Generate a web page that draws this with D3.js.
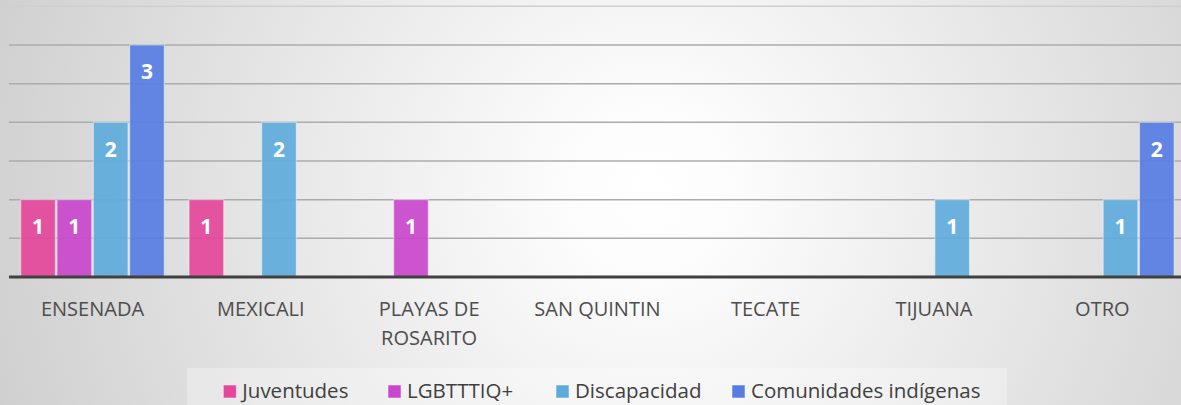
<!DOCTYPE html>
<html>
<head>
<meta charset="utf-8">
<script src="https://cdn.jsdelivr.net/npm/d3@7"></script>
<style>
  html, body { margin: 0; padding: 0; background: #ffffff; }
  svg { display: block; }
  text { font-family: "Open Sans", sans-serif; }
</style>
</head>
<body>
<svg id="chart" width="1181" height="405"></svg>
<script>
// ---- data ----
const categories = ["ENSENADA", "MEXICALI", "PLAYAS DE ROSARITO", "SAN QUINTIN", "TECATE", "TIJUANA", "OTRO"];
const tickLabels = [["ENSENADA"], ["MEXICALI"], ["PLAYAS DE", "ROSARITO"], ["SAN QUINTIN"], ["TECATE"], ["TIJUANA"], ["OTRO"]];
const seriesNames = ["Juventudes", "LGBTTTIQ+", "Discapacidad", "Comunidades indígenas"];
const juventudes   = [1, 1, 0, 0, 0, 0, 0];
const lgbtttiq     = [1, 0, 1, 0, 0, 0, 0];
const discapacidad = [2, 2, 0, 0, 0, 1, 1];
const comunidades  = [3, 0, 0, 0, 0, 0, 2];
const gridValues   = [0.5, 1, 1.5, 2, 2.5, 3, 3.5];

const seriesValues = [juventudes, lgbtttiq, discapacidad, comunidades];
const colors = ["#E4479A", "#C947CC", "#5EABDB", "#577DE3"];

// ---- layout ----
const W = 1181, H = 405;
const svg = d3.select("#chart");

const defs = svg.append("defs");
const grad = defs.append("radialGradient")
  .attr("id", "bg").attr("gradientUnits", "userSpaceOnUse")
  .attr("cx", 650).attr("cy", 190).attr("r", 720);
grad.append("stop").attr("offset", "0").attr("stop-color", "#ffffff");
grad.append("stop").attr("offset", "0.12").attr("stop-color", "#fcfcfc");
grad.append("stop").attr("offset", "1").attr("stop-color", "#cdcdcd");
svg.append("rect").attr("width", W).attr("height", H).attr("fill", "url(#bg)");

const x0 = d3.scaleBand().domain(categories).range([8.35, 1186.5])
  .paddingInner(0.147).paddingOuter(0.0735);
const x1 = d3.scaleBand().domain(seriesNames).range([0, x0.bandwidth()]).paddingInner(0.045);
const y = d3.scaleLinear().domain([0, 3.5]).range([277, 6.3]);

// gridlines
svg.append("g").selectAll("line").data(gridValues).join("line")
  .attr("x1", 9).attr("x2", W)
  .attr("y1", d => y(d)).attr("y2", d => y(d))
  .attr("stroke", (d, i) => i === gridValues.length - 1 ? "#cfcfcf" : "#ababab")
  .attr("stroke-width", 1.5);

// bars
const rows = [];
categories.forEach((c, ci) => {
  seriesNames.forEach((s, si) => {
    const v = seriesValues[si][ci];
    if (v > 0) rows.push({ c, s, si, v });
  });
});

const bars = svg.append("g");
bars.selectAll("rect").data(rows).join("rect")
  .attr("x", d => x0(d.c) + x1(d.s))
  .attr("y", d => y(d.v))
  .attr("width", x1.bandwidth())
  .attr("height", d => y(0) - y(d.v))
  .attr("fill", d => colors[d.si])
  .attr("fill-opacity", 0.92)
  .attr("stroke", "rgba(255,255,255,0.45)")
  .attr("stroke-width", 1.2);

bars.selectAll("text").data(rows).join("text")
  .attr("x", d => x0(d.c) + x1(d.s) + x1.bandwidth() / 2)
  .attr("y", d => y(d.v) + 34.5)
  .attr("text-anchor", "middle")
  .attr("fill", "#ffffff")
  .attr("font-weight", "bold")
  .attr("font-size", 21)
  .text(d => d.v);

// axis line
svg.append("line").attr("x1", 9).attr("x2", W).attr("y1", y(0)).attr("y2", y(0))
  .attr("stroke", "#404040").attr("stroke-width", 3);

// category labels
const xAxis = d3.axisBottom(x0).tickSize(0).tickFormat("");
const ax = svg.append("g").attr("transform", `translate(0,${y(0)})`).call(xAxis);
ax.select(".domain").remove();
ax.selectAll(".tick").each(function (d, i) {
  const t = d3.select(this).append("text")
    .attr("text-anchor", "middle")
    .attr("fill", "#4d4d4d")
    .attr("font-size", 20);
  tickLabels[i].forEach((line, li) => {
    t.append("tspan").attr("x", 0).attr("y", 39 + li * 28.5).text(line);
  });
});

// legend
svg.append("rect").attr("x", 187).attr("y", 368).attr("width", 820).attr("height", 40)
  .attr("fill", "#ffffff").attr("fill-opacity", 0.3);
const legendX = [223.3, 388, 556, 732];
const lg = svg.append("g").selectAll("g").data(seriesNames).join("g")
  .attr("transform", (d, i) => `translate(${legendX[i]},398)`);
lg.append("rect").attr("x", 0).attr("y", -13).attr("width", 13).attr("height", 13)
  .attr("fill", (d, i) => colors[i])
  .attr("stroke", "rgba(255,255,255,0.5)").attr("stroke-width", 1);
lg.append("text").attr("x", 19).attr("y", 0)
  .attr("fill", "#404040").attr("font-size", 20.5)
  .text(d => d);
</script>
</body>
</html>
